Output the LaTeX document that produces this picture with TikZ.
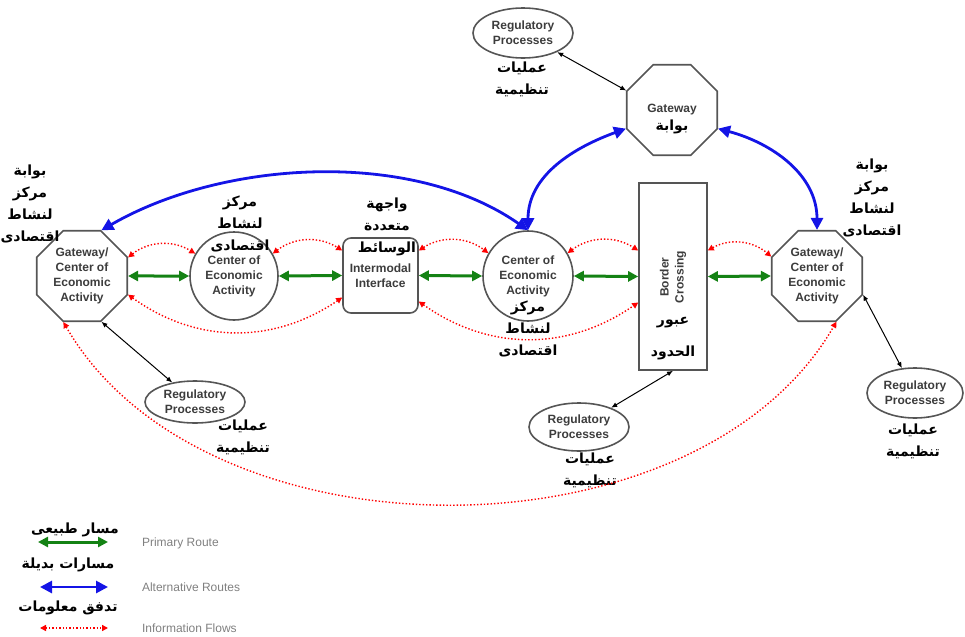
\documentclass[tikz,border=0pt]{standalone}
\usepackage{fontspec}
\setmainfont{Liberation Sans}
\newfontfamily\arabicfont[Script=Arabic]{DejaVu Sans}
\TeXXeTstate=1
\usepackage{xcolor}
\usepackage{tikz}
\usetikzlibrary{shapes.geometric, arrows.meta}

\definecolor{boxgray}{RGB}{85,85,85}
\definecolor{txtgray}{RGB}{60,60,60}
\definecolor{routegreen}{RGB}{20,130,20}
\definecolor{routeblue}{RGB}{20,20,230}
\newcommand{\artxt}[1]{\beginR #1\endR}

\begin{document}
\begin{tikzpicture}[x = 0.5pt, y = -0.5pt,
	entext/.style = {align = center, text = txtgray, font = \fontsize{6}{7.5}\selectfont\bfseries},
	artext/.style = {align = center, text = black, font = \arabicfont\fontsize{7}{11}\selectfont\bfseries},
	hub/.style = {entext, draw = boxgray, line width = 0.8pt, regular polygon, regular polygon sides = 8, minimum size = 49pt, inner sep = 0pt},
	centre/.style = {entext, draw = boxgray, line width = 0.8pt, circle, inner sep = 0pt},
	regproc/.style = {entext, draw = boxgray, line width = 0.8pt, ellipse, inner sep = 0pt, minimum width = 50pt, minimum height = 24pt},
	primary/.style = {draw = routegreen, line width = 1.5pt, arrows = {Triangle[length = 5pt, width = 5pt]-Triangle[length = 5pt, width = 5pt]}},
	alternative/.style = {draw = routeblue, line width = 1.4pt, arrows = {Triangle[length = 6pt, width = 6pt]-Triangle[length = 6pt, width = 6pt]}},
	infoflow/.style = {draw = red, line width = 0.7pt, densely dotted, arrows = {Triangle[length = 3pt, width = 3pt]-Triangle[length = 3pt, width = 3pt]}},
	regulate/.style = {draw = black, line width = 0.5pt, arrows = {Latex[length = 3pt, width = 2.5pt]-Latex[length = 3pt, width = 2.5pt]}},
	legendtext/.style = {anchor = west, text = gray, font = \fontsize{6}{7}\selectfont}]

	\useasboundingbox (0, 0) rectangle (965, 637);

	\node[hub] (leftgw) at (82, 276) {Gateway/\\Center of\\Economic\\Activity};
	\node[hub] (rightgw) at (817, 276) {Gateway/\\Center of\\Economic\\Activity};
	\node[hub] (gw) at (672, 110) {};
	\node[entext] (gwtext) at (672, 110) {Gateway};
	\node[artext] (gwar) at (672, 127) {\artxt{بوابة}};

	\node[centre, minimum size = 44pt] (circ1) at (234, 276) {Center of\\Economic\\Activity};
	\node[centre, minimum size = 45pt] (circ2) at (528, 276) {Center of\\Economic\\Activity};
	\node[entext, draw = boxgray, line width = 0.8pt, rounded corners = 4pt, minimum width = 37.5pt, minimum height = 37.5pt, inner sep = 0pt] (inter) at (380.5, 275.5) {Intermodal\\Interface};

	\node[draw = boxgray, line width = 0.8pt, minimum width = 34pt, minimum height = 93.5pt, inner sep = 0pt] (border) at (673, 276.5) {};
	\node[entext, rotate = 90] (bordertext) at (673, 277) {Border\\Crossing};
	\node[artext] (borderar) at (673, 339) {\artxt{عبور}\\[5pt]\artxt{الحدود}};

	\node[regproc, minimum height = 25pt] (topreg) at (523, 33) {Regulatory\\Processes};
	\node[regproc, minimum height = 21pt] (leftreg) at (195, 402) {Regulatory\\Processes};
	\node[regproc] (botreg) at (579, 427) {Regulatory\\Processes};
	\node[regproc, minimum width = 48pt, minimum height = 25pt] (rightreg) at (915, 393) {Regulatory\\Processes};

	\node[artext] (topregar) at (522, 79) {\artxt{عمليات}\\\artxt{تنظيمية}};
	\node[artext] (leftregar) at (243, 437) {\artxt{عمليات}\\\artxt{تنظيمية}};
	\node[artext] (botregar) at (590, 470) {\artxt{عمليات}\\\artxt{تنظيمية}};
	\node[artext] (rightregar) at (913, 441) {\artxt{عمليات}\\\artxt{تنظيمية}};

	\node[artext] (leftgwar) at (30, 204) {\artxt{بوابة}\\\artxt{مركز}\\\artxt{لنشاط}\\\artxt{اقتصادى}};
	\node[artext] (rightgwar) at (872, 198) {\artxt{بوابة}\\\artxt{مركز}\\\artxt{لنشاط}\\\artxt{اقتصادى}};
	\node[artext] (circ1ar) at (240, 224) {\artxt{مركز}\\\artxt{لنشاط}\\\artxt{اقتصادى}};
	\node[artext] (interar) at (387, 227) {\artxt{واجهة}\\\artxt{متعددة}\\\artxt{الوسائط}};
	\node[artext] (circ2ar) at (528, 329) {\artxt{مركز}\\\artxt{لنشاط}\\\artxt{اقتصادى}};

	\draw[primary] (leftgw.east) -- (circ1.west);
	\draw[primary] (circ1.east) -- (inter.west);
	\draw[primary] (inter.east) -- (circ2.west);
	\draw[primary] (circ2.east) -- (border.west);
	\draw[primary] (border.east) -- (rightgw.west);

	\draw[alternative] (leftgw.67.5) to[out = 30, in = 145, looseness = 0.85] (circ2.north);
	\draw[alternative] (circ2.north) to[out = 90, in = 200] (gw.202.5);
	\draw[alternative] (gw.-22.5) to[out = -15, in = 90] (rightgw.north);

	\draw[infoflow] (leftgw.22.5) to[bend left = 35] (circ1.150);
	\draw[infoflow] (circ1.30) to[bend left = 35] ([yshift = 12.5pt]inter.west);
	\draw[infoflow] ([yshift = 12.5pt]inter.east) to[bend left = 35] (circ2.150);
	\draw[infoflow] (circ2.30) to[bend left = 35] ([yshift = 13pt]border.west);
	\draw[infoflow] ([yshift = 13pt]border.east) to[bend left = 35] (rightgw.157.5);
	\draw[infoflow] (leftgw.-22.5) to[bend right = 35] ([yshift = -11pt]inter.west);
	\draw[infoflow] ([yshift = -13pt]inter.east) to[bend right = 35] ([yshift = -13pt]border.west);
	\draw[infoflow] (leftgw.-112.5) to[out = -60, in = -120, looseness = 0.93] (rightgw.-67.5);

	\draw[regulate] (leftgw.-67.5) -- (leftreg);
	\draw[regulate] (topreg) -- (gw.157.5);
	\draw[regulate] (border.south) -- (botreg);
	\draw[regulate] (rightgw.-22.5) -- (rightreg);

	\node[artext] (lgprimar) at (75, 530) {\artxt{مسار طبيعى}};
	\coordinate (lgprima) at (38, 542);
	\coordinate (lgprimb) at (108, 542);
	\draw[primary] (lgprima) -- (lgprimb);
	\node[legendtext] (lgprim) at (135, 543) {Primary Route};

	\node[artext] (lgaltar) at (68, 565) {\artxt{مسارات بديلة}};
	\coordinate (lgalta) at (40, 587);
	\coordinate (lgaltb) at (108, 587);
	\draw[alternative] (lgalta) -- (lgaltb);
	\node[legendtext] (lgalt) at (135, 587) {Alternative Routes};

	\node[artext] (lginfoar) at (68, 608) {\artxt{تدفق معلومات}};
	\coordinate (lginfoa) at (40, 628);
	\coordinate (lginfob) at (108, 628);
	\draw[infoflow] (lginfoa) -- (lginfob);
	\node[legendtext] (lginfo) at (135, 628) {Information Flows};
\end{tikzpicture}
\end{document}
